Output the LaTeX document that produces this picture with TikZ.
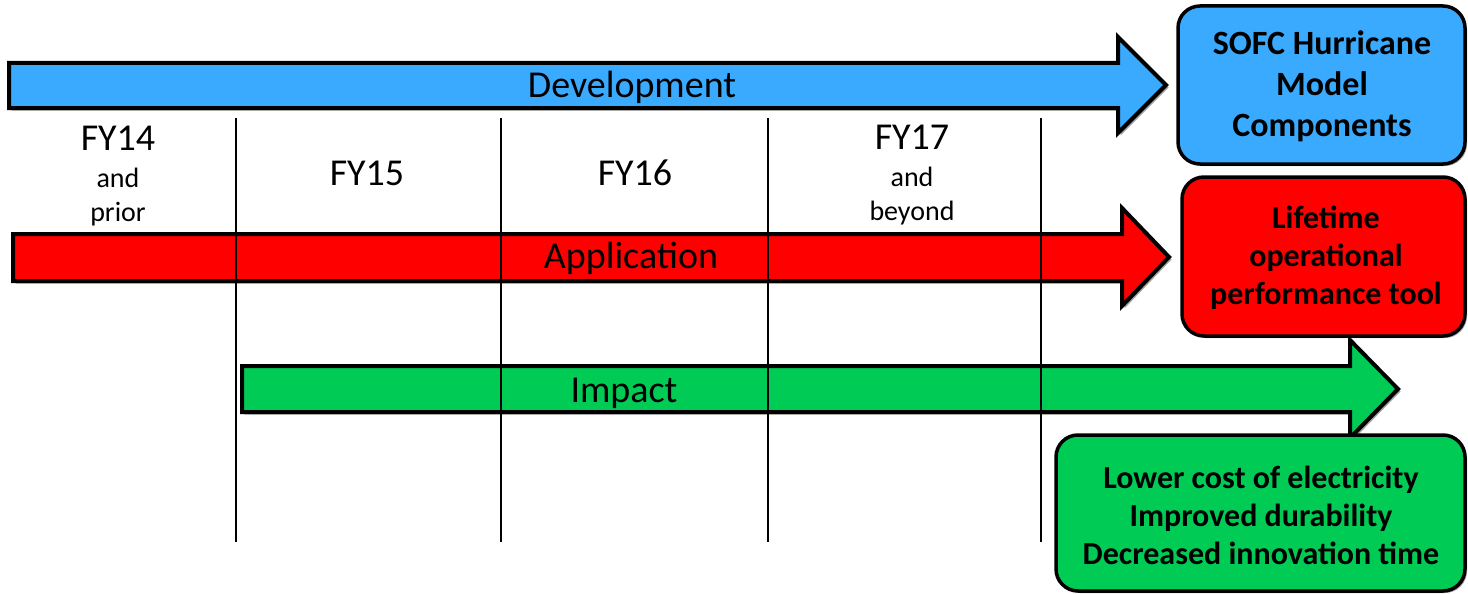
\documentclass[tikz,border=0pt]{standalone}
\usepackage{fontspec}
\setmainfont{Carlito}
\usetikzlibrary{shadows}

\definecolor{devblue}{RGB}{58,170,255}
\definecolor{appred}{RGB}{255,0,0}
\definecolor{impgreen}{RGB}{0,204,85}

\tikzset{
  blockarrow/.style={draw=black, line width=4pt, line join=miter,
    drop shadow={shadow xshift=2.5pt, shadow yshift=-2.5pt, fill=black!45, opacity=0.8}},
  outcome/.style={draw=black, line width=3.5pt, rounded corners=22pt,
    drop shadow={shadow xshift=2pt, shadow yshift=-2pt, fill=black!45, opacity=0.8}},
  yearline/.style={draw=black, line width=2.4pt},
  barlabel/.style={anchor=base, inner sep=0pt, font=\fontsize{38}{40}\selectfont},
  yearbig/.style={anchor=base, inner sep=0pt, font=\fontsize{38}{40}\selectfont},
  yearsmall/.style={anchor=base, inner sep=0pt, font=\fontsize{28}{30}\selectfont},
  boxtext/.style={align=center, inner sep=0pt},
}

\begin{document}
\begin{tikzpicture}[x=1pt, y=-1pt]
\useasboundingbox (0,0) rectangle (1468,594);

% block arrows
\path[blockarrow, fill=devblue] (9,63) -- (1118,63) -- (1118,37) -- (1166,85)
  -- (1118,133) -- (1118,108) -- (9,108) -- cycle;
\path[blockarrow, fill=appred] (13,234) -- (1122,234) -- (1122,208) -- (1169,257)
  -- (1122,306) -- (1122,281) -- (13,281) -- cycle;
\path[blockarrow, fill=impgreen] (242,366) -- (1350,366) -- (1350,340) -- (1398,389)
  -- (1350,438) -- (1350,412) -- (242,412) -- cycle;

% fiscal-year dividers
\coordinate (d1t) at (236,118); \coordinate (d1b) at (236,542);
\coordinate (d2t) at (501,118); \coordinate (d2b) at (501,542);
\coordinate (d3t) at (768,118); \coordinate (d3b) at (768,542);
\coordinate (d4t) at (1041,118); \coordinate (d4b) at (1041,542);
\draw[yearline] (d1t) -- (d1b);
\draw[yearline] (d2t) -- (d2b);
\draw[yearline] (d3t) -- (d3b);
\draw[yearline] (d4t) -- (d4b);

% arrow labels
\node[barlabel] (dev) at (632,97) {Development};
\node[barlabel] (app) at (631,268) {Application};
\node[barlabel] (imp) at (624,402) {Impact};

% year headings
\node[yearbig] (fy14) at (118,150) {FY14};
\node[yearsmall] (fy14a) at (118,187) {and};
\node[yearsmall] (fy14b) at (118,221) {prior};
\node[yearbig] (fy15) at (367,185) {FY15};
\node[yearbig] (fy16) at (635,185) {FY16};
\node[yearbig] (fy17) at (912,149) {FY17};
\node[yearsmall] (fy17a) at (912,186) {and};
\node[yearsmall] (fy17b) at (912,220) {beyond};

% outcome boxes
\path[outcome, fill=devblue] (1178,6) rectangle (1465,164);
\node[boxtext, font=\bfseries\fontsize{34}{41}\selectfont] (sofc) at (1322,86)
  {SOFC Hurricane\\Model\\Components};

\path[outcome, fill=appred] (1182,177) rectangle (1465,336);
\node[boxtext, font=\bfseries\fontsize{32}{38}\selectfont] (tool) at (1326,258)
  {Lifetime\\operational\\performance tool};

\path[outcome, fill=impgreen] (1056,435) rectangle (1465,591);
\node[boxtext, font=\bfseries\fontsize{32}{38}\selectfont] (gain) at (1261,515)
  {Lower cost of electricity\\Improved durability\\Decreased innovation time};
\end{tikzpicture}
\end{document}
